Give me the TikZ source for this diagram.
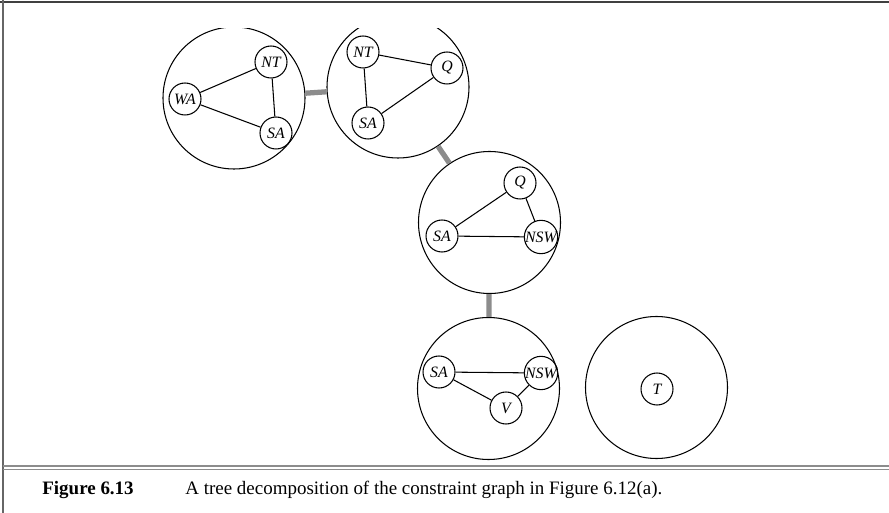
\documentclass[tikz,border=0pt]{standalone}
\usepackage{fontspec}
\setmainfont{Liberation Serif}
\tikzset{
	bag/.style={circle, draw, line width=0.6pt, minimum size=2.84cm, inner sep=0pt},
	var/.style={circle, draw, line width=0.6pt, minimum size=0.64cm, inner sep=0pt, font=\fontsize{9}{10}\selectfont\itshape},
	link/.style={line width=3pt, black!45},
	edge/.style={line width=0.6pt}
}
\begin{document}
\begin{tikzpicture}
	\useasboundingbox (0, 0) rectangle (17.78, -10.26);
	% frame
	\draw[line width=1.1pt, black!75] (0, -0.04)--(17.78, -0.04);
	\draw[line width=1.1pt, black!60] (0.06, 0)--(0.06, -10.26);
	\draw[line width=0.9pt, black!45] (0.06, -9.32)--(17.78, -9.32);
	\draw[line width=0.9pt, black!45] (0.06, -9.39)--(17.78, -9.39);
	% the bags, cut at the top
	\begin{scope}
		\clip (0, -0.58) rectangle (17.78, -10.26);
		\node[bag] (b1) at (4.68, -1.96) {};
		\node[bag] (b2) at (7.96, -1.74) {};
	\end{scope}
	\node[bag] (b3) at (9.79, -4.45) {};
	\node[bag] (b4) at (9.77, -7.77) {};
	\node[bag] (b5) at (13.13, -7.75) {};
	\draw[link] (b1)--(b2);
	\draw[link] (b2)--(b3);
	\draw[link] (b3)--(b4);
	% bag 1
	\node[var] (wa1) at (3.70, -1.98) {WA};
	\node[var] (nt1) at (5.42, -1.24) {NT};
	\node[var] (sa1) at (5.52, -2.66) {SA};
	\draw[edge] (wa1)--(nt1) (nt1)--(sa1) (sa1)--(wa1);
	% bag 2
	\node[var] (nt2) at (7.26, -1.04) {NT};
	\node[var] (q2) at (8.94, -1.36) {Q};
	\node[var] (sa2) at (7.36, -2.46) {SA};
	\draw[edge] (nt2)--(q2) (q2)--(sa2) (sa2)--(nt2);
	% bag 3
	\node[var] (q3) at (10.40, -3.66) {Q};
	\node[var] (sa3) at (8.84, -4.72) {SA};
	\node[var] (nsw3) at (10.82, -4.74) {NSW};
	\draw[edge] (q3)--(sa3) (sa3)--(nsw3) (nsw3)--(q3);
	% bag 4
	\node[var] (sa4) at (8.78, -7.44) {SA};
	\node[var] (nsw4) at (10.82, -7.46) {NSW};
	\node[var] (v4) at (10.12, -8.16) {V};
	\draw[edge] (sa4)--(nsw4) (nsw4)--(v4) (v4)--(sa4);
	% bag 5
	\node[var] (t5) at (13.14, -7.78) {T};
	% caption
	\node[anchor=west, inner sep=0pt, font=\fontsize{10.8}{12}\selectfont\bfseries] (fig) at (0.84, -9.80) {Figure 6.13};
	\node[anchor=west, inner sep=0pt, font=\fontsize{10.8}{12}\selectfont] (cap) at (3.70, -9.80) {A tree decomposition of the constraint graph in Figure 6.12(a).};
\end{tikzpicture}
\end{document}
